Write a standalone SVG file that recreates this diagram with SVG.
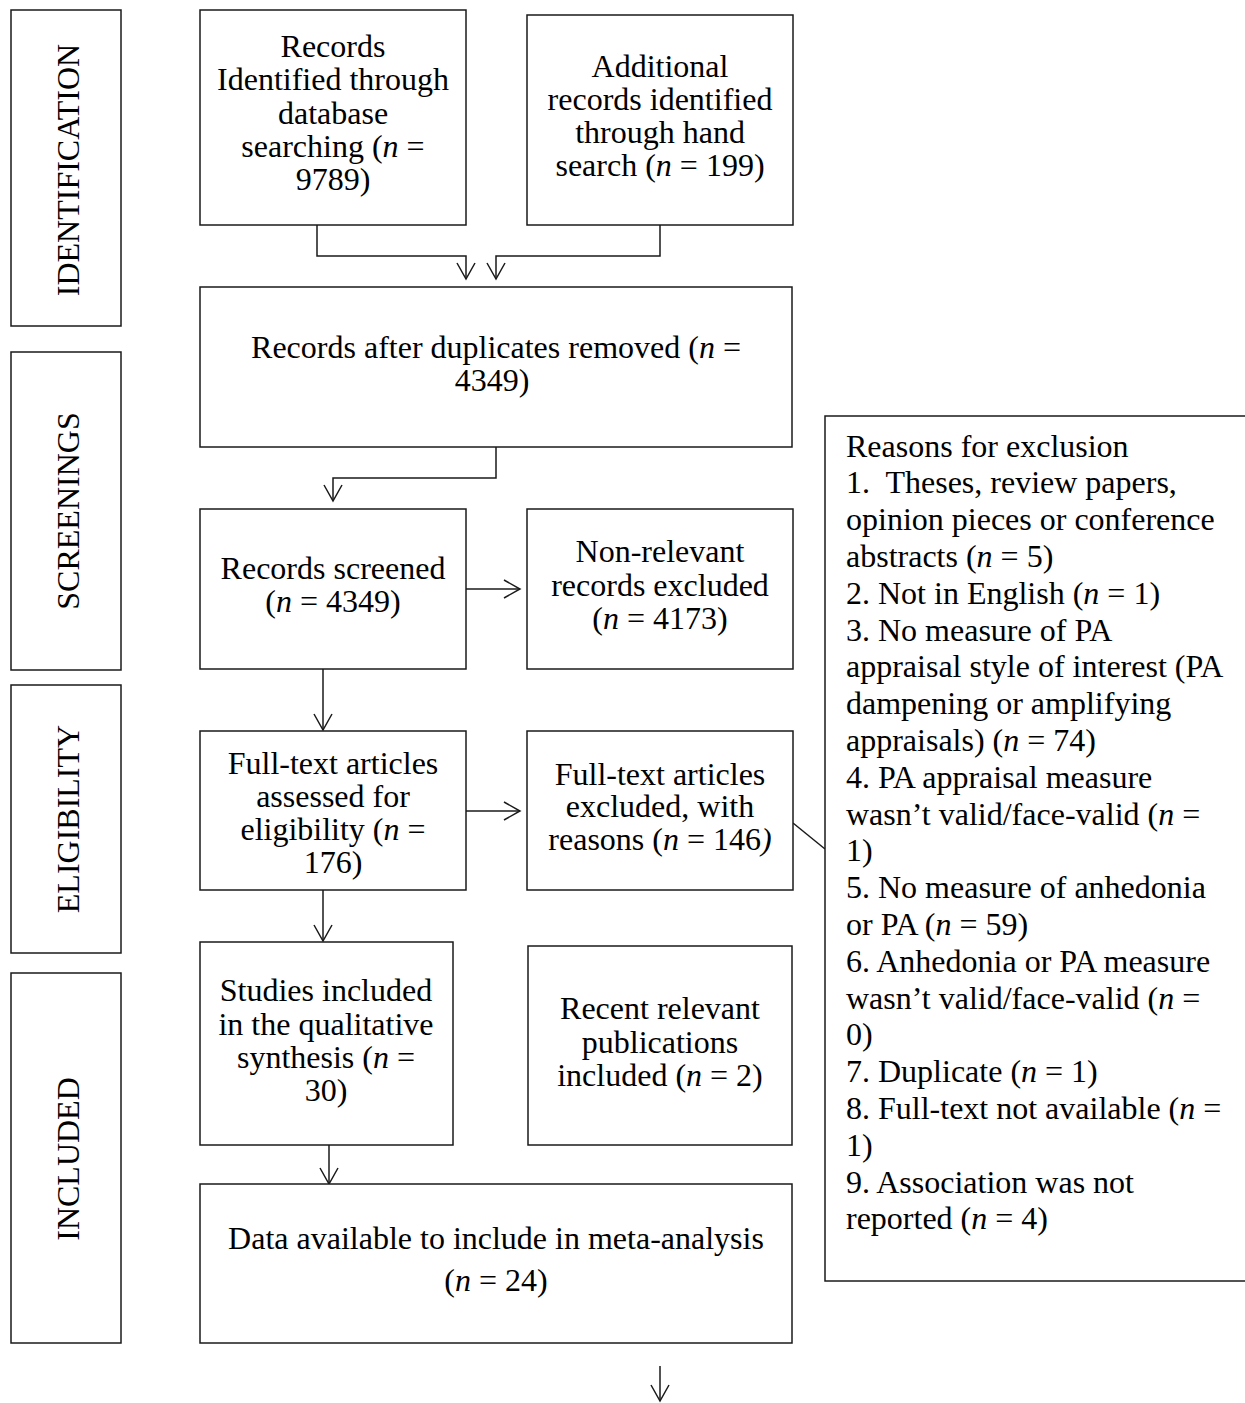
<svg xmlns="http://www.w3.org/2000/svg" width="1245" height="1403" viewBox="0 0 1245 1403">
<style>
.b{fill:#fff;stroke:#1a1a1a;stroke-width:1.5}
.t{font-family:"Liberation Serif","Times New Roman",serif;font-size:32px;fill:#000}
.c{text-anchor:middle}
.c2{fill:none;stroke:#1a1a1a;stroke-width:1.5}
.i{font-style:italic}
</style>
<defs>
<marker id="ah" markerUnits="userSpaceOnUse" markerWidth="22" markerHeight="22" refX="16" refY="9" orient="auto" viewBox="-2 -2 22 22">
<path d="M0,0 L16,9 L0,18" fill="none" stroke="#1a1a1a" stroke-width="1.5"/>
</marker>
</defs>
<rect width="1245" height="1403" fill="#fff"/>
<g id="stage-identification">
<rect class="b" x="11" y="10" width="110" height="316"/>
<text class="t c" transform="translate(79,170) rotate(-90)">IDENTIFICATION</text>
</g>
<g id="stage-screenings">
<rect class="b" x="11" y="352" width="110" height="318"/>
<text class="t c" transform="translate(79,511) rotate(-90)">SCREENINGS</text>
</g>
<g id="stage-eligibility">
<rect class="b" x="11" y="685" width="110" height="268"/>
<text class="t c" transform="translate(79,819) rotate(-90)">ELIGIBILITY</text>
</g>
<g id="stage-included">
<rect class="b" x="11" y="973" width="110" height="370"/>
<text class="t c" transform="translate(79,1159) rotate(-90)">INCLUDED</text>
</g>
<g id="connectors">
<path class="c2" d="M317,225 V256 H466 V279" marker-end="url(#ah)"/>
<path class="c2" d="M660,225 V256 H496 V279" marker-end="url(#ah)"/>
<path class="c2" d="M496,447 V478 H333 V501" marker-end="url(#ah)"/>
<path class="c2" d="M466,589 H520" marker-end="url(#ah)"/>
<path class="c2" d="M323,669 V730" marker-end="url(#ah)"/>
<path class="c2" d="M466,811 H520" marker-end="url(#ah)"/>
<path class="c2" d="M323,890 V941" marker-end="url(#ah)"/>
<path class="c2" d="M329,1145 V1184" marker-end="url(#ah)"/>
<path class="c2" d="M660,1366 V1401" marker-end="url(#ah)"/>
<path class="c2" d="M793,823 L825,849"/>
</g>
<g id="node-database">
<rect class="b" x="200" y="10" width="266" height="215"/>
<text class="t c"><tspan x="333" y="57">Records</tspan><tspan x="333" y="90">Identified through</tspan><tspan x="333" y="124">database</tspan><tspan x="333" y="157">searching (<tspan class="i">n</tspan> =</tspan><tspan x="333" y="190">9789)</tspan></text>
</g>
<g id="node-handsearch">
<rect class="b" x="527" y="15" width="266" height="210"/>
<text class="t c"><tspan x="660" y="77">Additional</tspan><tspan x="660" y="110">records identified</tspan><tspan x="660" y="143">through hand</tspan><tspan x="660" y="176">search (<tspan class="i">n</tspan> = 199)</tspan></text>
</g>
<g id="node-duplicates">
<rect class="b" x="200" y="287" width="592" height="160"/>
<text class="t c"><tspan x="496" y="358">Records after duplicates removed (<tspan class="i">n</tspan> =</tspan><tspan x="492" y="391">4349)</tspan></text>
</g>
<g id="node-screened">
<rect class="b" x="200" y="509" width="266" height="160"/>
<text class="t c"><tspan x="333" y="579">Records screened</tspan><tspan x="333" y="612">(<tspan class="i">n</tspan> = 4349)</tspan></text>
</g>
<g id="node-nonrelevant">
<rect class="b" x="527" y="509" width="266" height="160"/>
<text class="t c"><tspan x="660" y="562">Non-relevant</tspan><tspan x="660" y="596">records excluded</tspan><tspan x="660" y="629">(<tspan class="i">n</tspan> = 4173)</tspan></text>
</g>
<g id="node-fulltext">
<rect class="b" x="200" y="731" width="266" height="159"/>
<text class="t c"><tspan x="333" y="774">Full-text articles</tspan><tspan x="333" y="807">assessed for</tspan><tspan x="333" y="840">eligibility (<tspan class="i">n</tspan> =</tspan><tspan x="333" y="873">176)</tspan></text>
</g>
<g id="node-fulltext-excluded">
<rect class="b" x="527" y="731" width="266" height="159"/>
<text class="t c"><tspan x="660" y="785">Full-text articles</tspan><tspan x="660" y="817">excluded, with</tspan><tspan x="660" y="850">reasons (<tspan class="i">n</tspan> = 146<tspan class="i">)</tspan></tspan></text>
</g>
<g id="node-qualitative">
<rect class="b" x="200" y="942" width="253" height="203"/>
<text class="t c"><tspan x="326" y="1001">Studies included</tspan><tspan x="326" y="1035">in the qualitative</tspan><tspan x="326" y="1068">synthesis (<tspan class="i">n</tspan> =</tspan><tspan x="326" y="1101">30)</tspan></text>
</g>
<g id="node-recent">
<rect class="b" x="528" y="946" width="264" height="199"/>
<text class="t c"><tspan x="660" y="1019">Recent relevant</tspan><tspan x="660" y="1053">publications</tspan><tspan x="660" y="1086">included (<tspan class="i">n</tspan> = 2)</tspan></text>
</g>
<g id="node-meta">
<rect class="b" x="200" y="1184" width="592" height="159"/>
<text class="t c"><tspan x="496" y="1249">Data available to include in meta-analysis</tspan><tspan x="496" y="1291">(<tspan class="i">n</tspan> = 24)</tspan></text>
</g>
<g id="node-reasons">
<rect class="b" x="825" y="416" width="430" height="865"/>
<text class="t">
<tspan x="846" y="456.5">Reasons for exclusion</tspan>
<tspan x="846" y="493.3">1.&#160; Theses, review papers,</tspan>
<tspan x="846" y="530.1">opinion pieces or conference</tspan>
<tspan x="846" y="566.9">abstracts (<tspan class="i">n</tspan> = 5)</tspan>
<tspan x="846" y="603.7">2. Not in English (<tspan class="i">n</tspan> = 1)</tspan>
<tspan x="846" y="640.5">3. No measure of PA</tspan>
<tspan x="846" y="677.3">appraisal style of interest (PA</tspan>
<tspan x="846" y="714.1">dampening or amplifying</tspan>
<tspan x="846" y="750.9">appraisals) (<tspan class="i">n</tspan> = 74)</tspan>
<tspan x="846" y="787.7">4. PA appraisal measure</tspan>
<tspan x="846" y="824.5">wasn’t valid/face-valid (<tspan class="i">n</tspan> =</tspan>
<tspan x="846" y="861.3">1)</tspan>
<tspan x="846" y="898.1">5. No measure of anhedonia</tspan>
<tspan x="846" y="934.9">or PA (<tspan class="i">n</tspan> = 59)</tspan>
<tspan x="846" y="971.7">6. Anhedonia or PA measure</tspan>
<tspan x="846" y="1008.5">wasn’t valid/face-valid (<tspan class="i">n</tspan> =</tspan>
<tspan x="846" y="1045.3">0)</tspan>
<tspan x="846" y="1082.1">7. Duplicate (<tspan class="i">n</tspan> = 1)</tspan>
<tspan x="846" y="1118.9">8. Full-text not available (<tspan class="i">n</tspan> =</tspan>
<tspan x="846" y="1155.7">1)</tspan>
<tspan x="846" y="1192.5">9. Association was not</tspan>
<tspan x="846" y="1229.3">reported (<tspan class="i">n</tspan> = 4)</tspan>
</text>
</g>
</svg>
